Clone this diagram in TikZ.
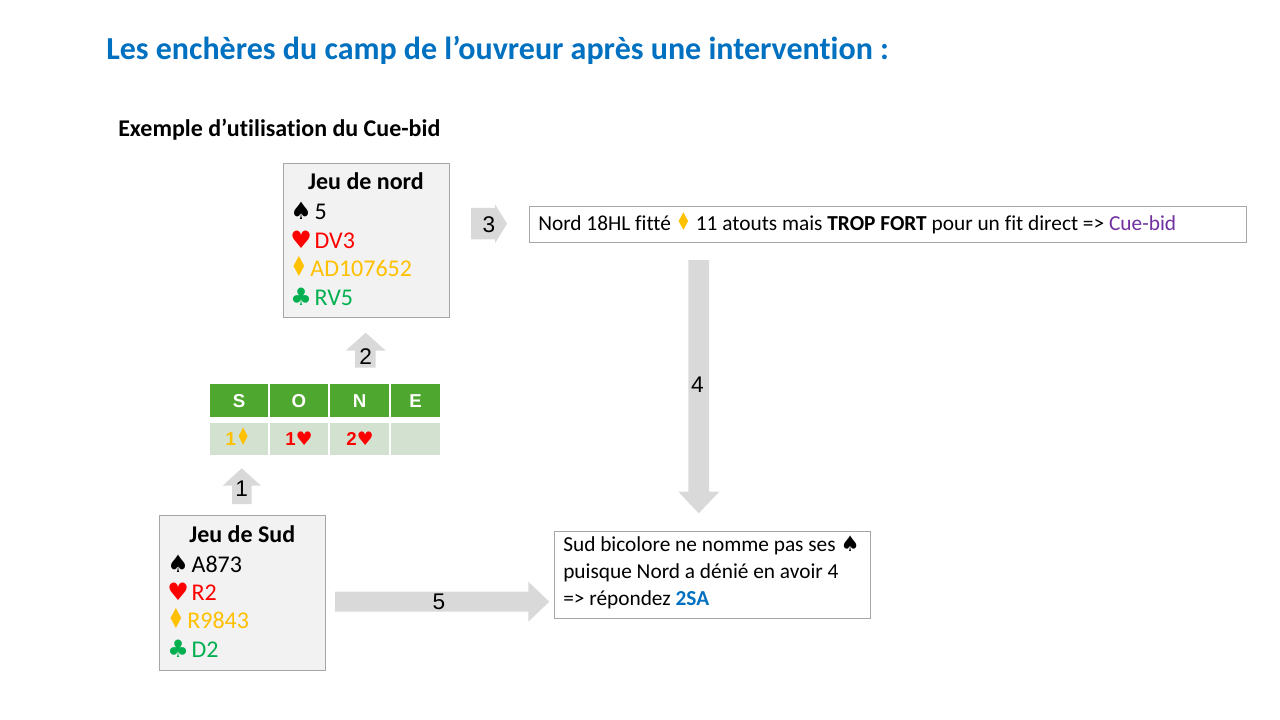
\documentclass[tikz,border=0pt]{standalone}
\usepackage{fontspec}
\setmainfont{Carlito}[RawFeature={-liga;-clig;-calt;-dlig}]
\newfontfamily\suitfont{DejaVu Sans}
\newfontfamily\arialfont{Liberation Sans}
\definecolor{titleblue}{HTML}{0070C0}
\definecolor{hred}{HTML}{FF0000}
\definecolor{dorange}{HTML}{FFC000}
\definecolor{cgreen}{HTML}{00B050}
\definecolor{cuepurple}{HTML}{7030A0}
\definecolor{arrowgray}{HTML}{D9D9D9}
\definecolor{boxgray}{HTML}{F2F2F2}
\definecolor{bordergray}{HTML}{A6A6A6}
\definecolor{hdrgreen}{HTML}{4EA72E}
\definecolor{rowgreen}{HTML}{D3E2D0}
\newcommand{\SSp}{{\suitfont ♠}}
\newcommand{\SHe}{{\suitfont\color{hred}♥}}
\newcommand{\SDi}{{\suitfont\color{dorange}\scalebox{0.8}[1.15]{♦}}}
\newcommand{\SCl}{{\suitfont\color{cgreen}♣}}
\newcommand{\gapsuit}{\hspace{0.12em}}
\tikzset{
  handbox/.style={draw=bordergray, fill=boxgray, line width=0.75pt, anchor=north west, inner sep=0pt},
  txtbox/.style={draw=bordergray, fill=white, line width=0.75pt, anchor=north west, inner sep=0pt},
  handtitle/.style={anchor=base, inner sep=0pt, font=\fontsize{18}{22}\selectfont\bfseries},
  handline/.style={anchor=base west, inner sep=0pt, font=\fontsize{18}{22}\selectfont},
  blockarrow/.style={fill=arrowgray, draw=none},
  arrowlabel/.style={inner sep=0pt, font=\arialfont\fontsize{17}{19}\selectfont},
  hdrcell/.style={fill=hdrgreen, draw=white, line width=1pt},
  rowcell/.style={fill=rowgreen, draw=white, line width=1pt},
  hdrtext/.style={anchor=base, inner sep=0pt, text=white, font=\arialfont\bfseries\fontsize{14}{16}\selectfont},
  rowtext/.style={anchor=base, inner sep=0pt, font=\arialfont\bfseries\fontsize{14}{16}\selectfont},
  boxtext/.style={anchor=base west, inner sep=0pt},
}
\begin{document}
\begin{tikzpicture}[x=0.75pt,y=-0.75pt]
\useasboundingbox (0,0) rectangle (1280,720);
% titles
\node[anchor=base west, inner sep=0pt, text=titleblue, font=\fontsize{24}{28}\selectfont\bfseries] (title) at (106,59.5) {Les enchères du camp de l’ouvreur après une intervention :};
\node[anchor=base west, inner sep=0pt, font=\fontsize{18}{21}\selectfont\bfseries] (subtitle) at (118,136.7) {Exemple d’utilisation du Cue-bid};

% Nord hand
\node[handbox, minimum width=125pt, minimum height=115.5pt] (nordbox) at (282.7,163.3) {};
\node[handtitle] (nordt) at (366,190) {Jeu de nord};
\node[handline] (n1) at (290,219.3) {\SSp\gapsuit 5};
\node[handline] (n2) at (290,248.3) {\SHe\gapsuit\textcolor{hred}{DV3}};
\node[handline] (n3) at (290,276.7) {\SDi\gapsuit\textcolor{dorange}{AD107652}};
\node[handline] (n4) at (290,305) {\SCl\gapsuit\textcolor{cgreen}{RV5}};

% Sud hand
\node[handbox, minimum width=124.5pt, minimum height=116.25pt] (sudbox) at (159.3,515) {};
\node[handtitle] (sudt) at (242.3,542.7) {Jeu de Sud};
\node[handline] (s1) at (167,572.3) {\SSp\gapsuit A873};
\node[handline] (s2) at (167,600.7) {\SHe\gapsuit\textcolor{hred}{R2}};
\node[handline] (s3) at (167,628.3) {\SDi\gapsuit\textcolor{dorange}{R9843}};
\node[handline] (s4) at (167,657.3) {\SCl\gapsuit\textcolor{cgreen}{D2}};

% bidding table
\draw[hdrcell] (209,383.3) rectangle (269,417.3);
\draw[hdrcell] (269,383.3) rectangle (329,417.3);
\draw[hdrcell] (329,383.3) rectangle (390,417.3);
\draw[hdrcell] (390,383.3) rectangle (441,417.3);
\draw[rowcell] (209,422) rectangle (269,456);
\draw[rowcell] (269,422) rectangle (329,456);
\draw[rowcell] (329,422) rectangle (390,456);
\draw[rowcell] (390,422) rectangle (441,456);
\node[hdrtext] (hS) at (239,407.3) {S};
\node[hdrtext] (hO) at (299,407.3) {O};
\node[hdrtext] (hN) at (359.5,407.3) {N};
\node[hdrtext] (hE) at (415.5,407.3) {E};
\node[rowtext, text=dorange] (b1) at (238,445) {1{\suitfont\scalebox{0.85}[1.3]{♦}}};
\node[rowtext, text=hred] (b2) at (299,445) {1{\suitfont♥}};
\node[rowtext, text=hred] (b3) at (360,445) {2{\suitfont♥}};

% text boxes
\node[txtbox, minimum width=537.75pt, minimum height=26.6pt] (box3) at (528.5,206.5) {};
\node[boxtext, font=\fontsize{16}{19}\selectfont] (t3) at (538,230.5) {Nord 18HL fitté \SDi\ 11 atouts mais \textbf{TROP FORT} pour un fit direct => \textcolor{cuepurple}{Cue-bid}};
\node[txtbox, minimum width=237pt, minimum height=65.25pt] (box5) at (554,531) {};
\node[boxtext, font=\fontsize{16}{19}\selectfont] (t5a) at (563,551.7) {Sud bicolore ne nomme pas ses \SSp};
\node[boxtext, font=\fontsize{16}{19}\selectfont] (t5b) at (563,578.3) {puisque Nord a dénié en avoir 4};
\node[boxtext, font=\fontsize{16}{19}\selectfont] (t5c) at (563,605) {=> répondez \textbf{\textcolor{titleblue}{2SA}}};

% block arrows
\fill[blockarrow] (232,504) -- (232,485.7) -- (222.7,485.7) -- (241.7,468.3) -- (261,485.7) -- (251.7,485.7) -- (251.7,504) -- cycle;
\node[arrowlabel] (a1) at (241.7,489) {1};
\fill[blockarrow] (355,367.7) -- (355,350.7) -- (345.7,350.7) -- (365.7,332.7) -- (385.7,350.7) -- (375.7,350.7) -- (375.7,367.7) -- cycle;
\node[arrowlabel] (a2) at (365.7,357) {2};
\fill[blockarrow] (471,208) -- (495,208) -- (495,204.3) -- (507,223.7) -- (495,243.3) -- (495,239.5) -- (471,239.5) -- cycle;
\node[arrowlabel] (a3) at (489,225) {3};
\fill[blockarrow] (688.3,260) -- (709,260) -- (709,491.7) -- (719.3,491.7) -- (698.7,513.3) -- (678.3,491.7) -- (688.3,491.7) -- cycle;
\node[arrowlabel] (a4) at (697.5,385) {4};
\fill[blockarrow] (335,591.7) -- (528.3,591.7) -- (528.3,581.7) -- (549.3,601.7) -- (528.3,621.7) -- (528.3,611.7) -- (335,611.7) -- cycle;
\node[arrowlabel] (a5) at (439,602) {5};
\end{tikzpicture}
\end{document}
